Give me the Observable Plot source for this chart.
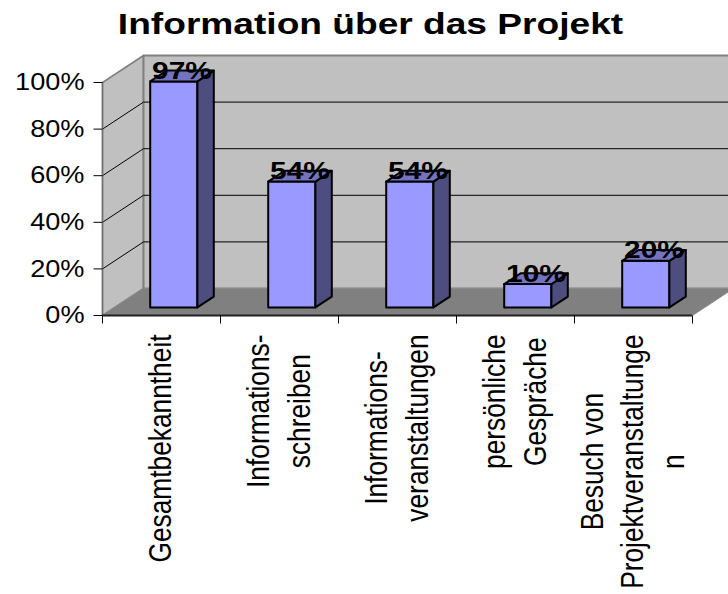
<!DOCTYPE html>
<html>
<head>
<meta charset="utf-8">
<script src="https://cdn.jsdelivr.net/npm/d3@7"></script>
<script src="https://cdn.jsdelivr.net/npm/@observablehq/plot@0.6"></script>
<style>
  body { margin: 0; background: #fff; overflow: hidden; }
</style>
</head>
<body>
<div id="chart"></div>
<script>
// ---------- data ----------
const title = "Information über das Projekt";
const categories = [
  "Gesamtbekanntheit",
  "Informations-\nschreiben",
  "Informations-\nveranstaltungen",
  "persönliche\nGespräche",
  "Besuch von\nProjektveranstaltunge\nn"
];
const values = [0.97, 0.54, 0.54, 0.10, 0.20];
const valueLabels = ["97%", "54%", "54%", "10%", "20%"];
const yTicks = [0, 0.2, 0.4, 0.6, 0.8, 1.0];
const yTickLabels = ["0%", "20%", "40%", "60%", "80%", "100%"];

// ---------- layout ----------
const W = 728, H = 594, mL = 102, mR = 36, mT = 82, mB = 279;
const n = categories.length;
const UX = (W - mL - mR) / n;   // px per category
const UY = H - mT - mB;         // px per 100 %
const DX = 41 / UX, DY = 27 / UY; // oblique depth of the 3D box (data units)
const FONT = "'Liberation Sans', Arial, Helvetica, sans-serif";
const XL_SIZE = 31, XL_LEN = 26.3; // x labels: glyph size vs. run length (condensed look)

const P = (x, y, z) => ({x: x + z * DX, y: y + z * DY});
const poly = (id, pts) => pts.map(([x, y, z]) => ({id, ...P(x, y, z)}));

const front = [], side = [], topF = [];
values.forEach((v, i) => {
  const a = i + 0.3, b = i + 0.7, z0 = 0.3, z1 = 0.7;
  front.push(...poly(i, [[a, 0, z0], [b, 0, z0], [b, v, z0], [a, v, z0]]));
  side.push(...poly(i, [[b, 0, z0], [b, 0, z1], [b, v, z1], [b, v, z0]]));
  topF.push(...poly(i, [[a, v, z0], [b, v, z0], [b, v, z1], [a, v, z1]]));
});
const backWall = poly("back", [[0, 0, 1], [n, 0, 1], [n, 1, 1], [0, 1, 1]]);
const sideWall = poly("side", [[0, 0, 0], [0, 0, 1], [0, 1, 1], [0, 1, 0]]);
const floor = poly("floor", [[0, 0, 0], [n, 0, 0], [n, 0, 1], [0, 0, 1]]);
const grid = yTicks.filter(t => t > 0 && t < 1)
  .flatMap(t => poly(t, [[0, t, 0], [0, t, 1], [n, t, 1]]));

const labelData = values.map((v, i) => ({...P(i + 0.5, v, 0.5), label: valueLabels[i]}));

const ctx = document.createElement("canvas").getContext("2d");
ctx.font = XL_LEN + "px " + FONT;
const xLabelData = categories.map((c, i) => {
  const m = Math.max(...c.split("\n").map(s => ctx.measureText(s).width));
  return {x: i + 0.5, y: -(19 + m / 2) / UY, text: c};
});

const polyOpts = {x: "x", y: "y", z: "id", curve: "linear-closed"};

const chart = Plot.plot({
  width: W, height: H,
  marginLeft: mL, marginRight: mR, marginTop: mT, marginBottom: mB,
  x: {type: "linear", domain: [0, n], axis: null},
  y: {type: "linear", domain: [0, 1], axis: null},
  style: {fontFamily: FONT, background: "white", color: "black"},
  marks: [
    Plot.line(sideWall, {...polyOpts, fill: "#c0c0c0", stroke: "#808080", strokeWidth: 1.5}),
    Plot.line(backWall, {...polyOpts, fill: "#c0c0c0", stroke: "#808080", strokeWidth: 2}),
    Plot.line(grid, {x: "x", y: "y", z: "id", stroke: "black", strokeWidth: 1}),
    Plot.line(floor, {...polyOpts, fill: "#808080", stroke: "#8a8a8a", strokeWidth: 1}),
    Plot.ruleX([0], {y1: 0, y2: 1, stroke: "#707070", strokeWidth: 1.5}),
    Plot.ruleY([0], {x1: 0, x2: n, stroke: "#202020", strokeWidth: 2}),
    Plot.link(d3.range(n + 1), {x1: d => d, x2: d => d, y1: 0, y2: -8 / UY, stroke: "black", strokeWidth: 1}),
    Plot.link(yTicks, {x1: -9 / UX, x2: 0, y1: d => d, y2: d => d, stroke: "black", strokeWidth: 1}),
    Plot.text(yTicks, {x: 0, y: d => d, text: (d, i) => yTickLabels[i], textAnchor: "end", lineAnchor: "middle", dx: -18, fontSize: 24, fill: "black"}),
    Plot.line(front, {...polyOpts, fill: "#9999ff", stroke: "black", strokeWidth: 2, strokeLinejoin: "round"}),
    Plot.line(side, {...polyOpts, fill: "#4d4d80", stroke: "black", strokeWidth: 2, strokeLinejoin: "round"}),
    Plot.line(topF, {...polyOpts, fill: "#7373bf", stroke: "black", strokeWidth: 2, strokeLinejoin: "round"}),
    Plot.text(labelData, {x: "x", y: "y", text: "label", lineAnchor: "bottom", dy: 3, fontSize: 23, fontWeight: "bold", fill: "black"}),
    Plot.text(xLabelData, {x: "x", y: "y", text: "text", rotate: -90, textAnchor: "middle", lineAnchor: "middle", lineHeight: 1.3, fontSize: XL_SIZE, dx: -3, fill: "black"}),
    Plot.text([title], {frameAnchor: "top", lineAnchor: "bottom", dx: -27, dy: -49, fontSize: 29, fontWeight: "bold", fill: "black"})
  ]
});

document.getElementById("chart").append(chart);

// anisotropic rendering of the original: horizontal texts wide, rotated texts condensed
const stretch = {"24": 1.13, "23": 1.3, "29": 1.28, [XL_SIZE]: XL_LEN / XL_SIZE};
const fit = (el, k) => {
  const w = el.getComputedTextLength();
  el.setAttribute("textLength", (w * k).toFixed(1));
  el.setAttribute("lengthAdjust", "spacingAndGlyphs");
};
chart.querySelectorAll("g[font-size] > text").forEach(t => {
  const k = stretch[t.parentNode.getAttribute("font-size")];
  if (!k) return;
  const spans = t.querySelectorAll("tspan");
  if (spans.length) spans.forEach(s => fit(s, k));
  else fit(t, k);
});
</script>
</body>
</html>
